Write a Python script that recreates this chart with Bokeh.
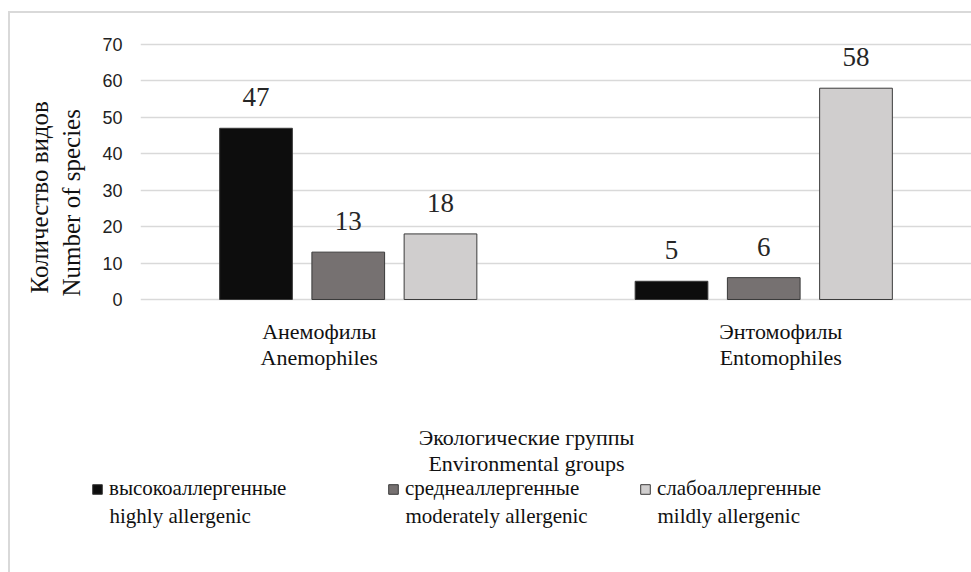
from bokeh.plotting import figure
from bokeh.layouts import column
from bokeh.models import (FactorRange, Range1d, FixedTicker, Label, Legend, LegendItem,
                          ColumnDataSource, Title)
from bokeh.transform import dodge
from bokeh.core.properties import value
from bokeh.embed import file_html
from bokeh.resources import INLINE

# ---- data ----
groups = ["Анемофилы", "Энтомофилы"]
groups_en = ["Anemophiles", "Entomophiles"]
series_ru = ["высокоаллергенные", "среднеаллергенные", "слабоаллергенные"]
series_en = ["highly allergenic", "moderately allergenic", "mildly allergenic"]
highly = [47, 5]
moderately = [13, 6]
mildly = [18, 58]
y_ticks = [0, 10, 20, 30, 40, 50, 60, 70]
y_title = ["Количество видов", "Number of species"]
x_title = ["Экологические группы", "Environmental groups"]

# ---- styling ----
colors = ["#0d0d0d", "#767171", "#d0cece"]
offsets = [-0.222, 0.0, 0.222]
label_dx = [-29, 17]
legend_x = [91, 387, 639]
SERIF = "Liberation Serif"
TXT = "#111111"
BORDER = "#d9d9d9"

p = figure(width=971, height=476, output_backend="svg", toolbar_location=None,
           x_range=FactorRange(*groups), y_range=Range1d(-48.59, 73.84),
           min_border_left=140, min_border_right=0, min_border_top=30, min_border_bottom=0,
           frame_align=False)
p.outline_line_color = None
p.border_fill_alpha = 0
p.background_fill_alpha = 0
p.styles = {"background": f"linear-gradient({BORDER},{BORDER}) 8px 11px / 2px 100% no-repeat, "
                          f"linear-gradient({BORDER},{BORDER}) 8px 11px / 100% 2px no-repeat, #ffffff"}
p.xaxis.visible = False
p.xgrid.grid_line_color = None
p.ygrid.ticker = FixedTicker(ticks=y_ticks)
p.ygrid.grid_line_color = BORDER
p.ygrid.grid_line_width = 1.5
p.yaxis.ticker = FixedTicker(ticks=y_ticks)
p.yaxis.axis_line_color = None
p.yaxis.major_tick_line_color = None
p.yaxis.minor_tick_line_color = None
p.yaxis.major_label_standoff = 12
p.yaxis.major_label_text_font = "Liberation Sans"
p.yaxis.major_label_text_font_size = "18px"
p.yaxis.major_label_text_color = "#222222"

src = ColumnDataSource(dict(g=groups, en=groups_en, h=highly, m=moderately, l=mildly, dx=label_dx))
for col, c, off in zip(["h", "m", "l"], colors, offsets):
    p.vbar(x=dodge("g", off, range=p.x_range), top=col, width=0.175, source=src,
           fill_color=c, line_color="#3a3a3a", line_width=1)
    p.text(x=dodge("g", off, range=p.x_range), y=col, text=col, source=src,
           text_font=value(SERIF), text_font_size="27px", text_color="#262626",
           text_align="center", text_baseline="alphabetic", y_offset=-31)

# category labels (two lines)
for col, dy in [("g", 32), ("en", 58)]:
    p.text(x="g", y=0, text=col, source=src, x_offset="dx", y_offset=dy,
           text_font=value(SERIF), text_font_size="22px", text_color=TXT,
           text_align="center", text_baseline="middle")

# y title (two lines, left panel)
p.add_layout(Title(text=y_title[1], align="left", offset=180, standoff=29,
                   text_font=SERIF, text_font_size="25px", text_font_style="normal",
                   text_color=TXT), "left")
p.add_layout(Title(text=y_title[0], align="left", offset=183, standoff=-22,
                   text_font=SERIF, text_font_size="25px", text_font_style="normal",
                   text_color=TXT), "left")

# x title
for t, yy in zip(x_title, [39, 13]):
    p.add_layout(Label(x=386, y=yy, x_units="screen", y_units="screen", text=t,
                       text_font=SERIF, text_font_size="22px", text_color=TXT,
                       text_align="center", text_baseline="middle"))

# ---- legend strip (own frame across the full width) ----
lf = figure(width=971, height=96, output_backend="svg", toolbar_location=None,
            x_range=Range1d(0, 971), y_range=Range1d(0, 96),
            x_axis_location=None, y_axis_location=None,
            min_border=0, frame_align=False)
lf.grid.visible = False
lf.outline_line_color = None
lf.border_fill_alpha = 0
lf.background_fill_alpha = 0
lf.styles = {"background": f"linear-gradient({BORDER},{BORDER}) 8px 0px / 2px 100% no-repeat, #ffffff"}

for ru, en, c, lx in zip(series_ru, series_en, colors, legend_x):
    # legend swatch proxy: zero-height bar outside the view
    proxy = lf.vbar(x=[-100], top=[0], bottom=[0], width=1,
                    fill_color=c, line_color="#3a3a3a", line_width=1)
    lg = Legend(items=[LegendItem(label=ru, renderers=[proxy])], location=(lx, 71),
                orientation="vertical", padding=0, margin=0, spacing=0,
                glyph_width=12, glyph_height=12, label_standoff=6,
                label_text_font=SERIF, label_text_font_size="21px",
                label_text_color=TXT,
                border_line_color=None, background_fill_alpha=0)
    lf.add_layout(lg, "center")
    lf.add_layout(Label(x=lx + 18, y=57, x_units="screen", y_units="screen", text=en,
                        text_font=SERIF, text_font_size="21px", text_color=TXT,
                        text_align="left", text_baseline="middle"))

layout = column(p, lf, spacing=0)
open("out.html", "w").write(file_html(layout, INLINE))
